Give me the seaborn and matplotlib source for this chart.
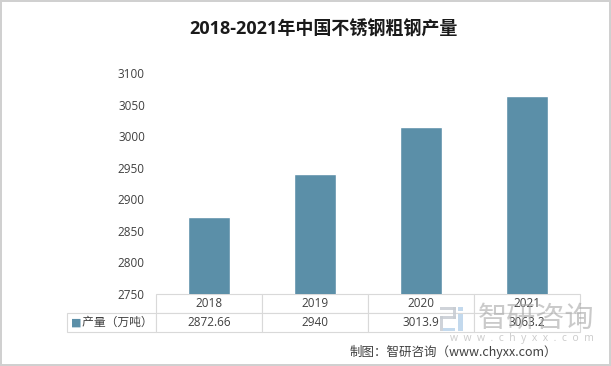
import matplotlib
matplotlib.use("Agg")
import matplotlib.pyplot as plt
from matplotlib.patches import Rectangle
import seaborn as sns
import pandas as pd

years = ["2018", "2019", "2020", "2021"]
output = [2872.66, 2940, 3013.9, 3063.2]
output_labels = ["2872.66", "2940", "3013.9", "3063.2"]
yticks = [2750, 2800, 2850, 2900, 2950, 3000, 3050, 3100]
series_name = "产量（万吨）"

bar_color = "#5b8fa8"
grid_color = "#d9d9d9"
text_color = "#404040"

sns.set_theme(style="white")
plt.rcParams["font.family"] = ["Open Sans", "Noto Sans CJK SC", "DejaVu Sans"]

df = pd.DataFrame({"year": years, "value": output})

W, H = 611, 366
fig = plt.figure(figsize=(6.11, 3.66), dpi=100, edgecolor="#d0d0d0", linewidth=1.5)
ax = fig.add_axes([156/W, 1-294/H, 424/W, 221/H])

sns.barplot(data=df, x="year", y="value", color=bar_color, saturation=1, width=0.40, ax=ax)
ax.set_ylim(2750, 3100)
ax.set_yticks(yticks)
ax.set_yticklabels([str(t) for t in yticks], fontsize=8.5, color=text_color)
ax.tick_params(axis="y", length=0, pad=8)
ax.set_xticks([])
ax.set_xlabel("")
ax.set_ylabel("")
for s in ax.spines.values():
    s.set_visible(False)

# data table under the bars
cells = [[""] + years, ["     " + series_name] + output_labels]
tab = ax.table(cellText=cells, cellLoc="center",
               colWidths=[89, 106, 106, 106, 106],
               bbox=[-89/424, -38/221, 513/424, 38/221])
tab.auto_set_font_size(False)
for (r, c), cell in tab.get_celld().items():
    cell.set_edgecolor(grid_color)
    cell.set_linewidth(0.8)
    cell.get_text().set_fontsize(8.5)
    cell.get_text().set_color(text_color)
    cell.get_text().set_fontfamily(["Open Sans", "Noto Sans CJK SC"])
    if r == 0 and c == 0:
        cell.visible_edges = ""
    if c == 0 and r == 1:
        cell.get_text().set_ha("left")
        cell.PAD = 0.02
        cell.get_text().set_fontfamily(["Noto Sans CJK SC"])
fig.text(71/W, 1-323/H, "■", color=bar_color, fontsize=8, va="center", ha="left",
         family="DejaVu Sans")

fig.text(0.53, 0.918, "2018-2021年中国不锈钢粗钢产量", ha="center", va="center",
         fontsize=13, fontweight="bold", color="#1a1a1a",
         family=["Open Sans", "Noto Sans CJK SC"])

# watermark logo
logo_gray = "#c7ccd3"
logo_blue = "#b9d3ea"
for (x0, y0, w, h, col) in [(440, 307, 16, 3, logo_gray), (453, 307, 3, 12, logo_gray),
                            (440, 316, 16, 3, logo_gray), (440, 316, 3, 15, logo_gray),
                            (443, 328, 12, 3, logo_blue), (458, 314, 5, 17, logo_blue),
                            (458, 307, 5, 4, logo_blue)]:
    fig.add_artist(Rectangle((x0/W, 1-(y0+h)/H), w/W, h/H, transform=fig.transFigure,
                             facecolor=col, edgecolor="none", alpha=0.85))
fig.text(594/W, 1-319/H, "智研咨询", ha="right", va="center", fontsize=21,
         color="#a8a8a8", alpha=0.6, family="Noto Sans CJK SC")
fig.text(594/W, 1-338/H, "w  w  w  .  c  h  y  x  x  .  c  o  m", ha="right", va="center",
         fontsize=7.5, color="#a8a8a8", alpha=0.6)

fig.text(557/W, 1-352/H, "制图：智研咨询（www.chyxx.com）", ha="right", va="center",
         fontsize=9, color=text_color, family=["Noto Sans CJK SC"])

fig.savefig("out.png", dpi=100, edgecolor=fig.get_edgecolor())
